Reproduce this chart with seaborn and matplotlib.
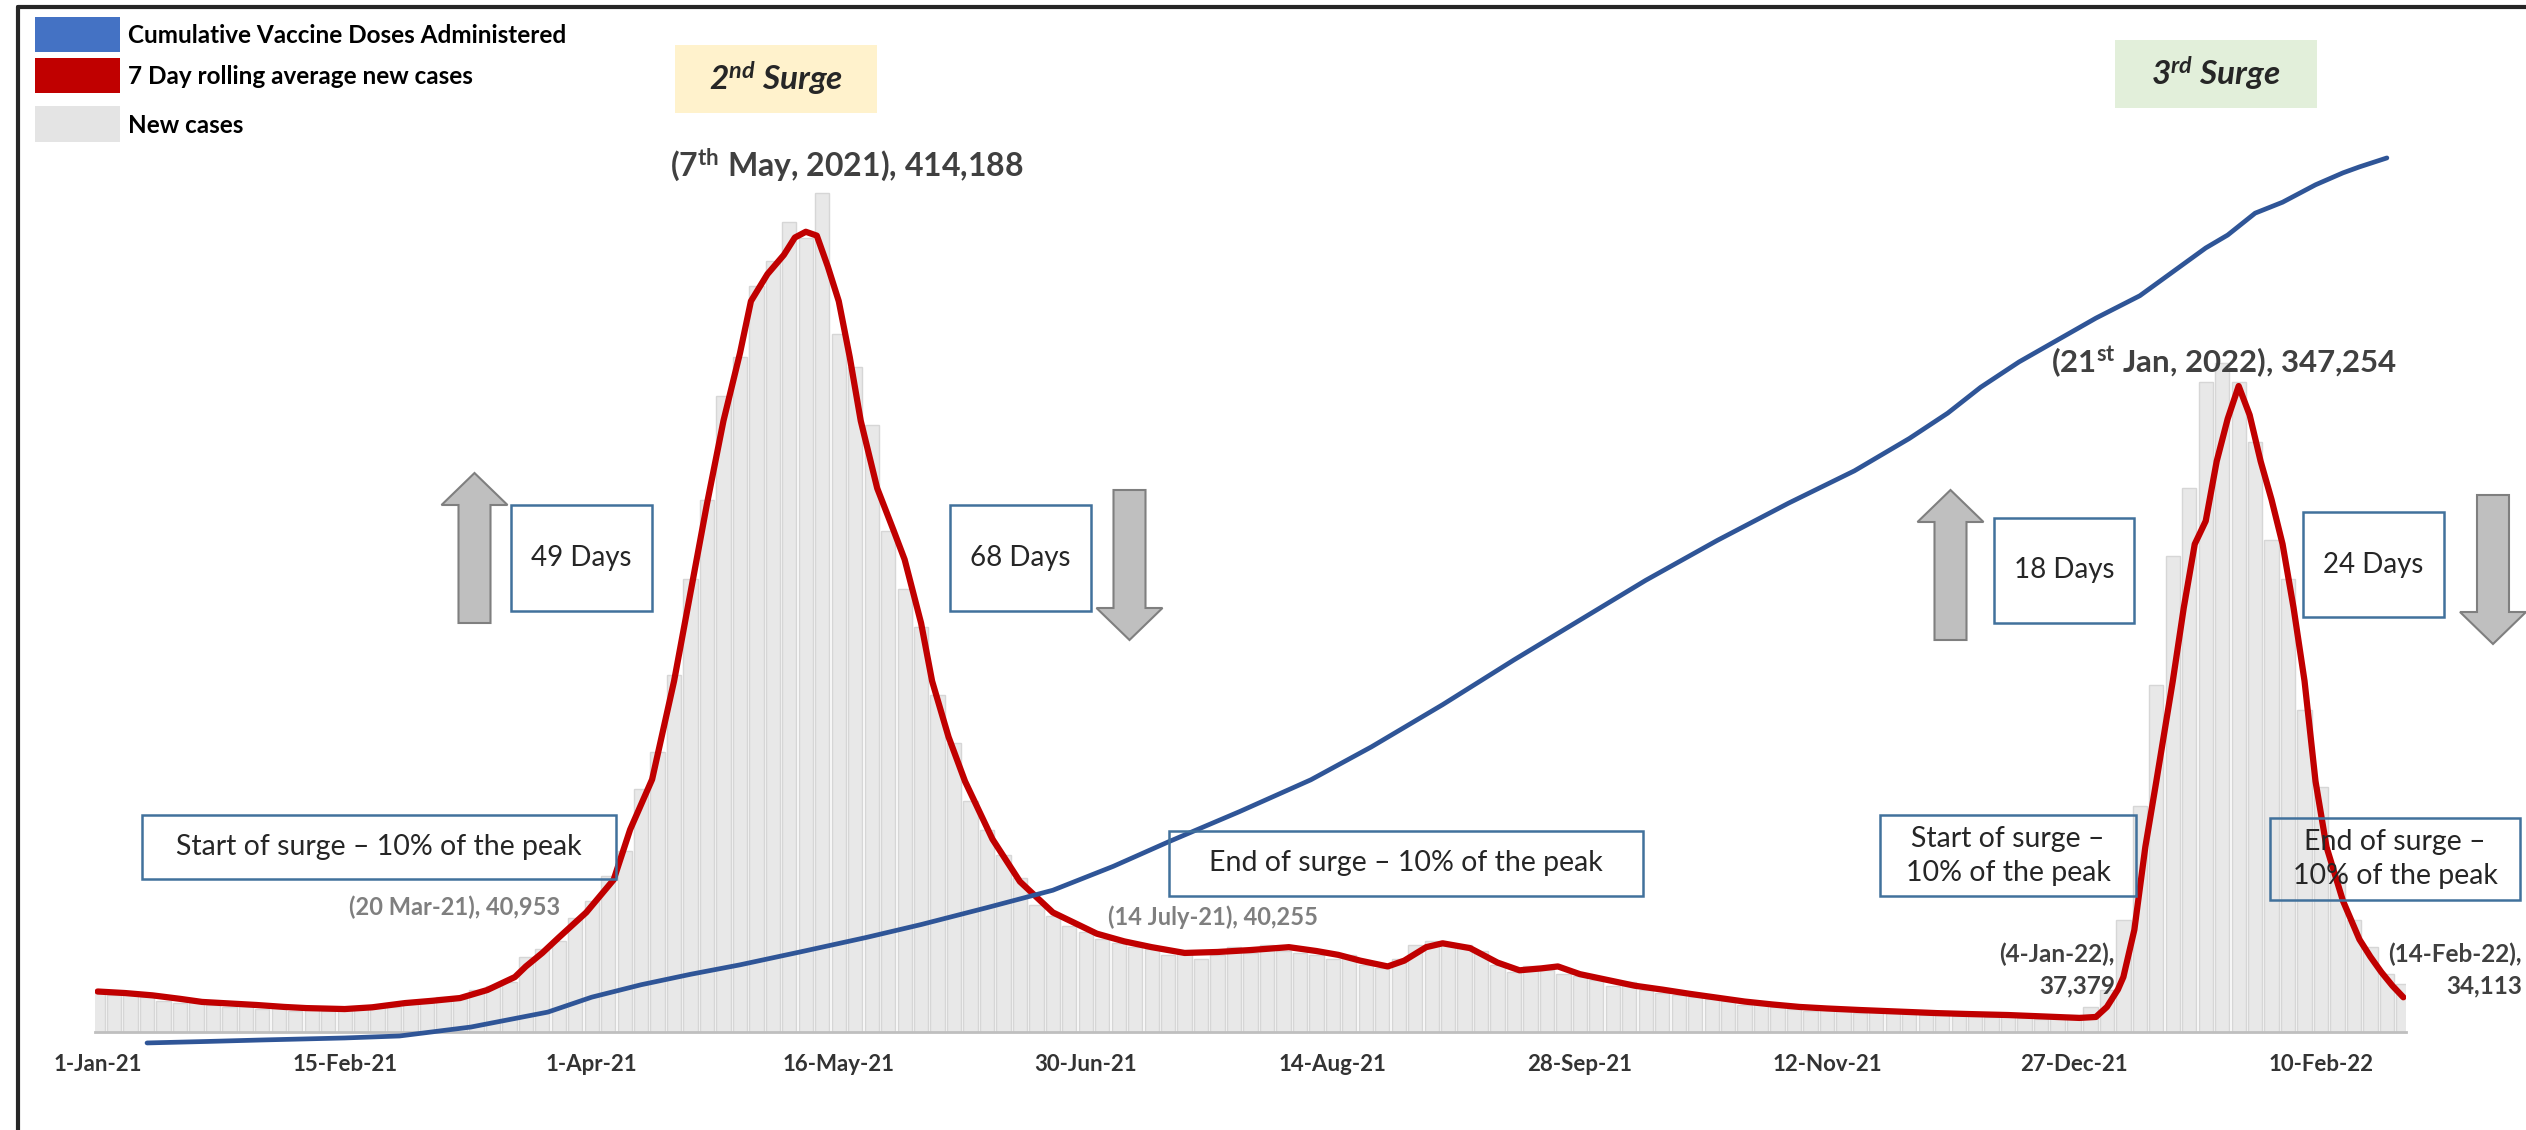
import numpy as np
import pandas as pd
import matplotlib.pyplot as plt
import seaborn as sns
from matplotlib.patches import Rectangle, Polygon
from matplotlib.lines import Line2D

# ---- data ----
start = pd.Timestamp('2021-01-01')

tick_labels = ['1-Jan-21', '15-Feb-21', '1-Apr-21', '16-May-21', '30-Jun-21',
               '14-Aug-21', '28-Sep-21', '12-Nov-21', '27-Dec-21', '10-Feb-22']

# daily new cases, one bar every 3rd day from 1-Jan-21 (thousands)
new_cases_k = [
    20, 19, 21, 18, 16, 15, 16, 14, 13, 15,
    12, 13, 11, 13, 11, 12, 13, 14, 13, 16,
    15, 18, 17, 22, 24, 26, 39, 43, 47, 59,
    68, 81, 94, 126, 145, 185, 235, 276, 330, 350,
    387, 400, 420, 412, 435, 362, 345, 315, 260, 230,
    210, 175, 150, 120, 105, 92, 80, 66, 60, 55,
    52, 48, 46, 44, 43, 40, 42, 38, 40, 44,
    41, 45, 42, 41, 40, 38, 40, 35, 33, 38,
    45, 47, 46, 45, 42, 35, 31, 34, 32, 30,
    29, 27, 24, 26, 22, 20, 19, 18, 17, 16,
    14, 15, 13, 12, 11, 12, 11, 10, 11, 10,
    9.5, 9, 10, 8.5, 9, 8, 8.5, 7.5, 7, 7.5,
    9, 13, 22, 58, 117, 180, 247, 282, 337, 347,
    337, 306, 255, 235, 167, 127, 83, 58, 44, 30,
    25,
]

# 7 day rolling average (day offset from 1-Jan-21, thousands)
avg_day = [0, 5, 10, 15, 19, 24, 29, 34, 38, 45, 50, 56, 61, 66, 71, 76, 78, 81,
           84, 89, 94, 97, 101, 105, 108, 111, 114, 117, 119, 122, 125, 127, 129,
           131, 133, 135, 137, 139, 142, 145, 147, 150, 152, 155, 158, 163, 168,
           174, 182, 187, 192, 198, 204, 210, 217, 222, 226, 230, 235, 238, 242,
           245, 250, 255, 259, 263, 266, 270, 275, 280, 285, 290, 295, 300, 305,
           310, 315, 321, 328, 335, 341, 348, 355, 361, 364, 366, 368, 369, 371,
           373, 375, 378, 380, 382, 384, 386, 388, 390, 392, 394, 396, 398, 400,
           402, 404, 406, 409, 412, 414, 416, 418, 420]
avg_k = [21, 20.2, 19, 17.2, 15.6, 14.8, 14, 13, 12.4, 11.9, 12.8, 15, 16.2, 17.6,
         21.8, 28.5, 34, 41, 49, 62, 79, 105, 131, 182, 228, 274, 317, 352, 379,
         393, 403, 412, 415, 413, 397, 379, 350, 317, 282, 260, 245, 212, 182, 153,
         130, 100, 78, 62, 51, 47, 44, 41, 41.5, 42.5, 44, 42, 40, 37, 34, 37, 44,
         46, 43.5, 36, 32, 33, 34, 30, 27, 24, 22, 19.8, 17.8, 15.8, 14.3, 13,
         12.2, 11.4, 10.6, 9.8, 9.3, 8.8, 8, 7.3, 7.8, 13, 22, 28.5, 53, 96, 130,
         182, 220, 253, 265, 296, 318, 335, 320, 296, 276, 253, 220, 182, 130, 96,
         68, 48, 39, 31, 24, 18]

# cumulative vaccine doses (day offset, millions)
vacc_day = [9, 20, 30, 45, 55, 68, 82, 90, 99, 108, 117, 128, 140, 150, 162, 174,
            185, 195, 208, 221, 232, 245, 258, 270, 282, 295, 308, 320, 330, 337,
            343, 350, 357, 364, 372, 378, 384, 388, 393, 398, 404, 409, 412, 417]
vacc_m = [0, 3, 6, 10, 14, 32, 62, 92, 117, 138, 157, 183, 212, 238, 272, 307,
          355, 404, 465, 529, 595, 680, 770, 850, 930, 1010, 1085, 1150, 1215, 1266,
          1318, 1369, 1413, 1457, 1502, 1550, 1598, 1624, 1668, 1690, 1725, 1749,
          1761, 1779]

bar_dates = pd.date_range(start, periods=len(new_cases_k), freq='3D')
avg_dates = start + pd.to_timedelta(avg_day, unit='D')
vacc_dates = start + pd.to_timedelta(vacc_day, unit='D')
tick_dates = pd.to_datetime(tick_labels, format='%d-%b-%y')

# ---- figure ----
W, H = 2526, 1130
sns.set_style('white')
plt.rcParams['font.family'] = ['Lato', 'DejaVu Sans']
plt.rcParams['mathtext.fontset'] = 'custom'
plt.rcParams['mathtext.bf'] = 'Lato:bold'
plt.rcParams['mathtext.it'] = 'Lato:italic:bold'

fig = plt.figure(figsize=(W / 100, H / 100), dpi=100)

def fx(x):
    return x / W

def fy(y):
    return 1 - y / H

# axes placed in pixels of the reference
x0, x1, ybase, ytop = 94.9, 2406.1, 1032, 145
ax = fig.add_axes([fx(x0), fy(ybase), fx(x1 - x0), (ybase - ytop) / H])

ax.bar(bar_dates, np.array(new_cases_k) * 1000, width=2.6, color='#e8e8e8',
       edgecolor='#d6d6d6', linewidth=1, zorder=1)
sns.lineplot(x=avg_dates, y=np.array(avg_k) * 1000, ax=ax, color='#c00000',
             linewidth=4.5, zorder=3, solid_capstyle='round')

# vaccine doses on a hidden secondary axis whose zero sits just below the baseline
ax2 = ax.twinx()
sns.lineplot(x=vacc_dates, y=vacc_m, ax=ax2, color='#2f5597', linewidth=3.4,
             solid_capstyle='round', clip_on=False)
ax2.set_ylim(22, 1805)
ax2.axis('off')

ax.set_xlim(start - pd.Timedelta(days=0.5), start + pd.Timedelta(days=420.5))
ax.set_ylim(0, 460000)
ax.set_xlabel('')
ax.set_ylabel('')
ax.set_yticks([])
ax.set_xticks(tick_dates)
ax.set_xticklabels(tick_labels, fontsize=16, fontweight='bold', color='#333333')
ax.tick_params(axis='x', length=0, pad=16)
for s in ['top', 'left', 'right']:
    ax.spines[s].set_visible(False)
ax.spines['bottom'].set_color('#bfbfbf')
ax.spines['bottom'].set_linewidth(2)
ax.patch.set_alpha(0)

# ---- outer frame ----
fig.add_artist(Line2D([fx(18), fx(18)], [0, fy(7)], color='#262626', lw=3))
fig.add_artist(Line2D([fx(18), 1], [fy(7), fy(7)], color='#262626', lw=3))

def rect(xa, ya, xb, yb, fc='none', ec='none', lw=1.8):
    fig.add_artist(Rectangle((fx(xa), fy(yb)), fx(xb - xa), (yb - ya) / H,
                             facecolor=fc, edgecolor=ec, lw=lw))

def txt(x, y, s, **kw):
    kw.setdefault('ha', 'center')
    kw.setdefault('va', 'center')
    fig.text(fx(x), fy(y), s, **kw)

# ---- legend ----
leg_items = [('#4472c4', 'Cumulative Vaccine Doses Administered', 17, 52),
             ('#c00000', '7 Day rolling average new cases', 58, 93),
             ('#e4e4e4', 'New cases', 106, 142)]
for col, lab, ya, yb in leg_items:
    rect(35, ya, 120, yb, fc=col)
    txt(128, (ya + yb) / 2 + 1, lab, ha='left', fontsize=17.5, fontweight='bold', color='black')

# ---- surge labels ----
rect(675, 45, 877, 113, fc='#fff2cc')
txt(776, 79, r'2$^{\mathit{nd}}$ Surge', fontsize=24, fontweight='bold', fontstyle='italic')
rect(2115, 40, 2317, 108, fc='#e2efda')
txt(2216, 74, r'3$^{\mathit{rd}}$ Surge', fontsize=24, fontweight='bold', fontstyle='italic')

txt(847, 165, r'(7$^{\mathbf{th}}$ May, 2021), 414,188', fontsize=23, fontweight='bold', color='#404040')
txt(2224, 363, r'(21$^{\mathbf{st}}$ Jan, 2022), 347,254', fontsize=22.5, fontweight='bold', color='#404040')

# ---- arrows ----
def arrow(cx, top, bottom, up=True):
    hs, hh, hl = 16, 33, 32
    if up:
        pts = [(cx, top), (cx + hh, top + hl), (cx + hs, top + hl), (cx + hs, bottom),
               (cx - hs, bottom), (cx - hs, top + hl), (cx - hh, top + hl)]
    else:
        pts = [(cx, bottom), (cx + hh, bottom - hl), (cx + hs, bottom - hl), (cx + hs, top),
               (cx - hs, top), (cx - hs, bottom - hl), (cx - hh, bottom - hl)]
    fig.add_artist(Polygon([(fx(a), fy(b)) for a, b in pts], closed=True,
                           facecolor='#bfbfbf', edgecolor='#7f7f7f', lw=1.5))

box_ec = '#41719c'
arrow(474.5, 473, 623, up=True)
rect(511, 505, 652, 611, ec=box_ec)
txt(581, 558, '49 Days', fontsize=20)
rect(950, 505, 1091, 611, ec=box_ec)
txt(1020, 558, '68 Days', fontsize=20)
arrow(1129.5, 490, 640, up=False)

arrow(1950.5, 490, 640, up=True)
rect(1994, 518, 2134, 623, ec=box_ec)
txt(2064, 570, '18 Days', fontsize=20)
rect(2303, 512, 2444, 617, ec=box_ec)
txt(2373, 565, '24 Days', fontsize=20)
arrow(2493, 495, 644, up=False)

# ---- start / end of surge notes ----
rect(142, 815, 616, 879, ec=box_ec)
txt(379, 847, 'Start of surge \u2013 10% of the peak', fontsize=20.5)
txt(455, 907, '(20 Mar-21), 40,953', fontsize=17, fontweight='bold', color='#7f7f7f')

rect(1169, 831, 1643, 896, ec=box_ec)
txt(1406, 863, 'End of surge \u2013 10% of the peak', fontsize=20.5)
txt(1213, 917, '(14 July-21), 40,255', fontsize=17, fontweight='bold', color='#7f7f7f')

rect(1880, 815, 2136, 896, ec=box_ec)
txt(2008, 856, 'Start of surge \u2013\n10% of the peak', fontsize=20.5, linespacing=1.4)
rect(2270, 818, 2520, 900, ec=box_ec)
txt(2395, 859, 'End of surge \u2013\n10% of the peak', fontsize=20.5, linespacing=1.4)

txt(2115, 970, '(4-Jan-22),\n37,379', ha='right', fontsize=17.5, fontweight='bold',
    color='#404040', linespacing=1.45, multialignment='right')
txt(2522, 970, '(14-Feb-22),\n34,113', ha='right', fontsize=17.5, fontweight='bold',
    color='#404040', linespacing=1.45, multialignment='right')

fig.savefig('out.png', dpi=100)
